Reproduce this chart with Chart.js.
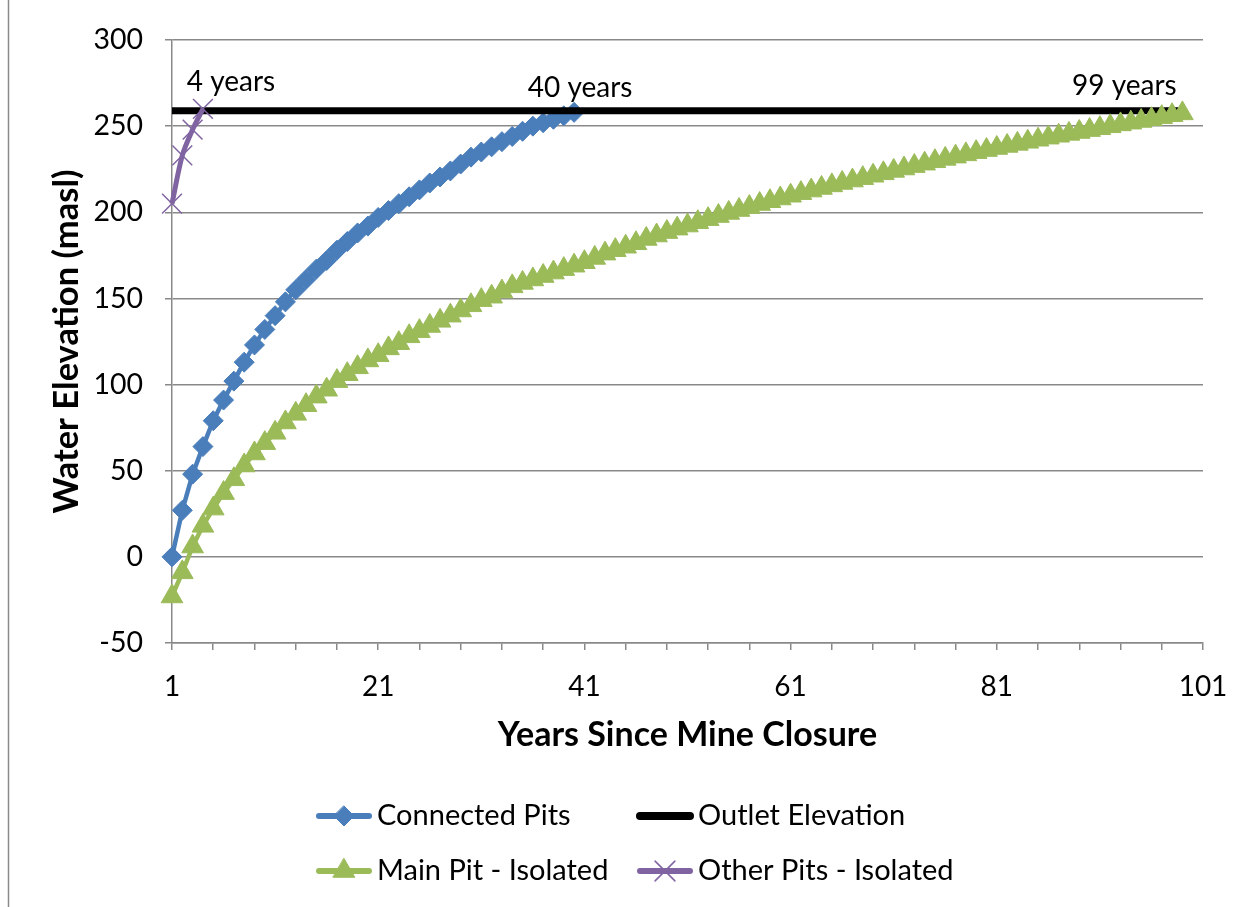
<!DOCTYPE html>
<html><head><meta charset="utf-8">
<script src="https://cdn.jsdelivr.net/npm/chart.js@4/dist/chart.umd.min.js"></script>
<style>html,body{margin:0;padding:0;background:#fff;}#wrap{position:relative;width:1250px;height:907px;}</style>
</head><body><div id="wrap"><canvas id="c" width="1250" height="907"></canvas></div>
<script>
// ---- data ----
const years = [1,2,3,4,5,6,7,8,9,10,11,12,13,14,15,16,17,18,19,20,21,22,23,24,25,26,27,28,29,30,31,32,33,34,35,36,37,38,39,40,41,42,43,44,45,46,47,48,49,50,51,52,53,54,55,56,57,58,59,60,61,62,63,64,65,66,67,68,69,70,71,72,73,74,75,76,77,78,79,80,81,82,83,84,85,86,87,88,89,90,91,92,93,94,95,96,97,98,99];
const connectedPits = [0,27,48,64,79,91,102,113,123,132,140,148,155,161,167,172,178,183,188,192,197,201,205,209,213,217,220.5,224,228,232,235,238,241,244,247,250,252,254,256,258];
const mainPitIsolated = [-23,-9,6,18,28,37,45,53,60,66,72,78,83,88,93,97,102,106,110,114,117,121,124,128,131,134,137,140,143,146,149,151,154,157,159,161,163,165,167,169,171,173.5,176,178,180,182,184.5,186.5,188.5,190.5,192.3,194.2,196,197.8,199.6,201.3,203,204.8,206.4,208,209.6,211.1,212.6,214.1,215.6,217,218.4,219.8,221.2,222.6,224,225.4,226.8,228.2,229.6,231,232.3,233.6,234.9,236.1,237.3,238.5,239.7,240.9,242.1,243.3,244.4,245.5,246.6,247.7,248.8,249.9,251,252,253,254,255.2,256.3,257.4];
const otherPitsIsolated = [205,233,248,260];
const outletYears = [1, 99];
const outletElevation = [259, 259];
const xTickLabels = [1, 21, 41, 61, 81, 101];
const yTickValues = [-50, 0, 50, 100, 150, 200, 250, 300];
const seriesNames = ['Connected Pits', 'Outlet Elevation', 'Main Pit - Isolated', 'Other Pits - Isolated'];
const endLabels = ['40 years', null, '99 years', '4 years'];

function pts(xs, ys) { return ys.map((y, i) => ({x: xs[i], y: y})); }

const FONT = 'Lato';
const BLUE = '#4A7EBB', GREEN = '#9BBB59', PURPLE = '#8064A2', GRID = '#898989';

const datasets = [
  {label: seriesNames[0], data: pts(years, connectedPits), borderColor: BLUE, backgroundColor: BLUE,
   borderWidth: 4.5, pointStyle: 'rectRot', pointRadius: 10, pointBorderWidth: 1,
   pointBackgroundColor: BLUE, pointBorderColor: BLUE, order: 3, tension: 0, endLabel: endLabels[0], labelOffset: [6, -24]},
  {label: seriesNames[1], data: pts(outletYears, outletElevation), borderColor: '#000', backgroundColor: '#000',
   borderWidth: 7, pointRadius: 0, order: 2, tension: 0},
  {label: seriesNames[2], data: pts(years, mainPitIsolated), borderColor: GREEN, backgroundColor: GREEN,
   borderWidth: 4.5, pointStyle: 'triangle', pointRadius: 12.5, pointBorderWidth: 1,
   pointBackgroundColor: GREEN, pointBorderColor: GREEN, order: 1, tension: 0, endLabel: endLabels[2], labelOffset: [-58, -27]},
  {label: seriesNames[3], data: pts(years, otherPitsIsolated), borderColor: PURPLE, backgroundColor: PURPLE,
   borderWidth: 5, pointStyle: 'crossRot', pointRadius: 14, pointBorderWidth: 1.5,
   pointBackgroundColor: PURPLE, pointBorderColor: PURPLE, order: 0, tension: 0.3, endLabel: endLabels[3], labelOffset: [28, -27]}
];
datasets.forEach(d => { d.clip = false; d.fill = false; });

const bgPlugin = {
  id: 'bg',
  beforeDraw(chart) {
    const ctx = chart.ctx;
    ctx.save(); ctx.fillStyle = '#fff'; ctx.fillRect(0, 0, chart.width, chart.height); ctx.restore();
  },
  afterDraw(chart) {
    const ctx = chart.ctx;
    ctx.save(); ctx.strokeStyle = '#8a8a8a'; ctx.lineWidth = 1.5;
    ctx.beginPath(); ctx.moveTo(8.5, 0); ctx.lineTo(8.5, chart.height); ctx.stroke(); ctx.restore();
  }
};

const endLabelPlugin = {
  id: 'endLabels',
  afterDatasetsDraw(chart) {
    const ctx = chart.ctx;
    ctx.save();
    ctx.font = '28px ' + FONT; ctx.fillStyle = '#000'; ctx.textAlign = 'center'; ctx.textBaseline = 'middle';
    chart.data.datasets.forEach((ds, i) => {
      if (!ds.endLabel) return;
      const meta = chart.getDatasetMeta(i);
      const el = meta.data[meta.data.length - 1];
      ctx.fillText(ds.endLabel, el.x + ds.labelOffset[0], el.y + ds.labelOffset[1]);
    });
    ctx.restore();
  }
};

function drawMarker(ctx, style, x, y, r) {
  ctx.beginPath();
  if (style === 'rectRot') {
    ctx.moveTo(x, y - r); ctx.lineTo(x + r, y); ctx.lineTo(x, y + r); ctx.lineTo(x - r, y); ctx.closePath();
    ctx.fill(); ctx.stroke();
  } else if (style === 'triangle') {
    const edge = 3 * r / Math.sqrt(3), h = edge * Math.sqrt(3) / 2;
    ctx.moveTo(x - edge / 2, y + h / 3); ctx.lineTo(x + edge / 2, y + h / 3); ctx.lineTo(x, y - 2 * h / 3); ctx.closePath();
    ctx.fill(); ctx.stroke();
  } else if (style === 'crossRot') {
    const o = r * Math.SQRT1_2;
    ctx.moveTo(x - o, y - o); ctx.lineTo(x + o, y + o); ctx.moveTo(x + o, y - o); ctx.lineTo(x - o, y + o);
    ctx.stroke();
  }
}

const legendPlugin = {
  id: 'gridLegend',
  afterDraw(chart) {
    const ctx = chart.ctx;
    const colX = [316, 637], rowY = [816, 871];
    ctx.save();
    chart.data.datasets.forEach((ds, i) => {
      const x0 = colX[i % 2], y = rowY[Math.floor(i / 2)];
      ctx.strokeStyle = ds.borderColor; ctx.fillStyle = ds.borderColor;
      ctx.lineCap = 'round';
      ctx.lineWidth = ds.pointRadius ? 6 : 8;
      ctx.beginPath(); ctx.moveTo(x0 + 3, y); ctx.lineTo(x0 + 53, y); ctx.stroke();
      if (ds.pointRadius) {
        ctx.lineWidth = ds.pointBorderWidth || 1;
        drawMarker(ctx, ds.pointStyle, x0 + 28, y, ds.pointRadius);
      }
      ctx.font = '29px ' + FONT; ctx.fillStyle = '#000'; ctx.textAlign = 'left'; ctx.textBaseline = 'middle';
      ctx.fillText(ds.label, x0 + 61, y);
    });
    ctx.restore();
  }
};

new Chart(document.getElementById('c'), {
  type: 'line',
  data: {datasets: datasets},
  options: {
    responsive: false, devicePixelRatio: 1, animation: false,
    layout: {padding: {left: 0, top: 40, right: 47, bottom: 148}},
    plugins: {legend: {display: false}, tooltip: {enabled: false}},
    scales: {
      x: {
        type: 'linear', min: 1, max: 101,
        afterFit(s) { s.height = 116; },
        ticks: {stepSize: 4, autoSkip: false, maxRotation: 0, padding: 20, color: '#000',
          font: {family: FONT, size: 28},
          callback: v => xTickLabels.includes(Math.round(v)) ? String(Math.round(v)) : ''},
        grid: {display: true, drawOnChartArea: false, drawTicks: true, tickLength: 7, color: GRID, lineWidth: 1.5},
        border: {color: GRID, width: 1.5},
        title: {display: true, text: 'Years Since Mine Closure', color: '#000',
          font: {family: FONT, size: 34, weight: 'bold'}, padding: {top: 0, bottom: 4}}
      },
      y: {
        min: -50, max: 300,
        afterFit(s) { s.width = 172; },
        afterBuildTicks(s) { s.ticks = yTickValues.map(v => ({value: v})); },
        ticks: {stepSize: 50, padding: 22, color: '#000', font: {family: FONT, size: 28.5}},
        grid: {color: GRID, lineWidth: 1.5, tickLength: 7},
        border: {color: GRID, width: 1.5},
        title: {display: true, text: 'Water Elevation (masl)', color: '#000',
          font: {family: FONT, size: 34.5, weight: 'bold'}, padding: {top: 46, bottom: 0}}
      }
    }
  },
  plugins: [bgPlugin, endLabelPlugin, legendPlugin]
});
</script></body></html>
